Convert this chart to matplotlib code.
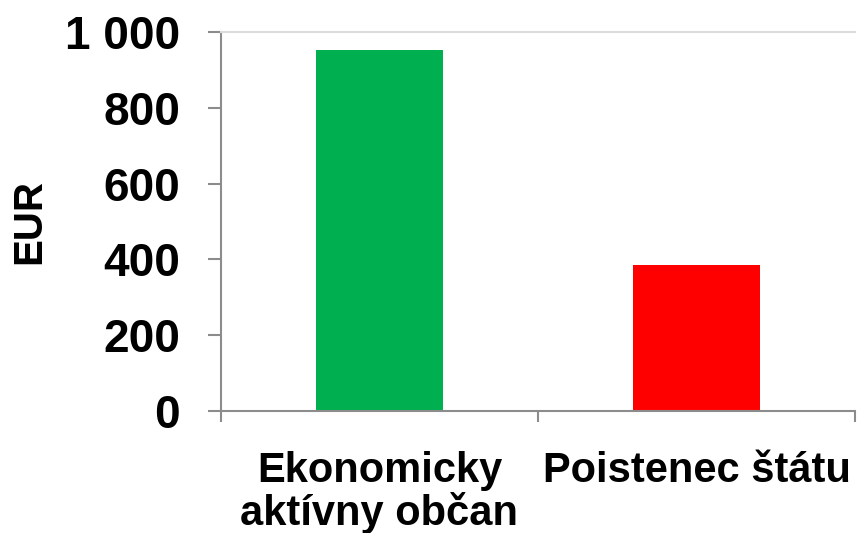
import matplotlib.pyplot as plt

categories = ['Ekonomicky\naktívny občan', 'Poistenec štátu']
values = [952, 385]
colors = ['#00b050', '#ff0000']
yticks = [0, 200, 400, 600, 800, 1000]
ytick_labels = ['0', '200', '400', '600', '800', '1 000']

plt.rcParams['font.family'] = ['Liberation Sans', 'DejaVu Sans']
plt.rcParams['font.weight'] = 'bold'

fig = plt.figure(figsize=(8.58, 5.33), dpi=100)
ax = fig.add_axes([221 / 858, 1 - 411 / 533, (855 - 221) / 858, (411 - 32) / 533])

pos = list(range(len(categories)))
ax.bar(pos, values, width=0.4, color=colors)

ax.set_xlim(-0.5, len(categories) - 0.5)
ax.set_ylim(0, 1000)

grey = '#8c8c8c'
ax.spines['right'].set_visible(False)
ax.spines['top'].set_color('#dcdcdc')
ax.spines['top'].set_linewidth(1.5)
for s in ['left', 'bottom']:
    ax.spines[s].set_color(grey)
    ax.spines[s].set_linewidth(1.5)

ax.set_yticks(yticks)
ax.set_yticklabels(ytick_labels, fontsize=33, fontweight='bold')
ax.tick_params(axis='y', length=9.5, width=1.5, color=grey, pad=20)

# boundary ticks without labels, category labels on minor ticks
ax.set_xticks([p - 0.5 for p in pos] + [pos[-1] + 0.5])
ax.set_xticklabels([])
ax.tick_params(axis='x', which='major', length=8, width=1.5, color=grey)
ax.set_xticks(pos, minor=True)
ax.set_xticklabels(categories, minor=True, fontsize=30, fontweight='bold', linespacing=1.02)
ax.tick_params(axis='x', which='minor', length=0, pad=29)

ax.set_ylabel('EUR', fontsize=29, fontweight='bold', labelpad=12)

fig.savefig('out.png', dpi=100)
